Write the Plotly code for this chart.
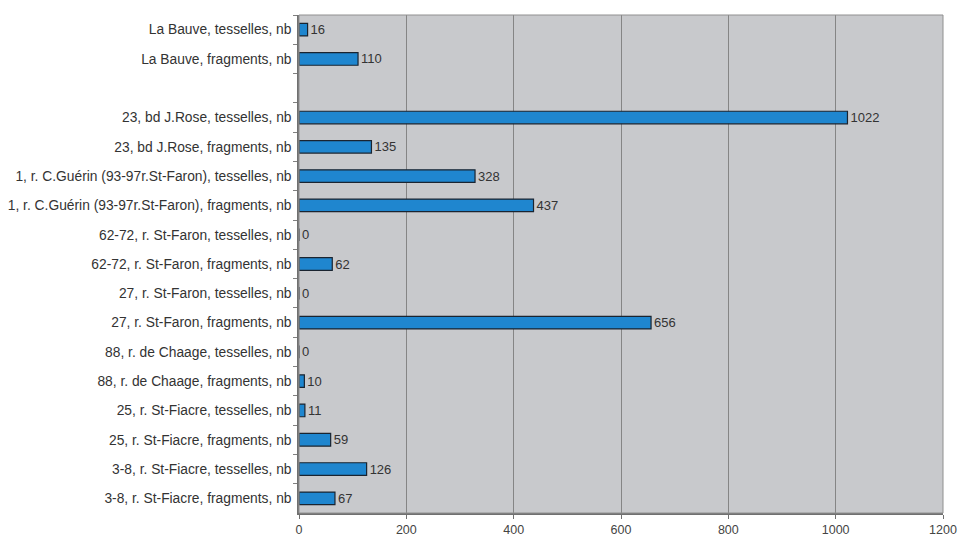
import plotly.graph_objects as go

categories = [
    "La Bauve, tesselles, nb",
    "La Bauve, fragments, nb",
    " ",
    "23, bd J.Rose, tesselles, nb",
    "23, bd J.Rose, fragments, nb",
    "1, r. C.Guérin (93-97r.St-Faron), tesselles, nb",
    "1, r. C.Guérin (93-97r.St-Faron), fragments, nb",
    "62-72, r. St-Faron, tesselles, nb",
    "62-72, r. St-Faron, fragments, nb",
    "27, r. St-Faron, tesselles, nb",
    "27, r. St-Faron, fragments, nb",
    "88, r. de Chaage, tesselles, nb",
    "88, r. de Chaage, fragments, nb",
    "25, r. St-Fiacre, tesselles, nb",
    "25, r. St-Fiacre, fragments, nb",
    "3-8, r. St-Fiacre, tesselles, nb",
    "3-8, r. St-Fiacre, fragments, nb",
]
values = [16, 110, None, 1022, 135, 328, 437, 0, 62, 0, 656, 0, 10, 11, 59, 126, 67]
x_ticks = [0, 200, 400, 600, 800, 1000, 1200]

labels = ["" if v is None else str(v) for v in values]

fig = go.Figure(go.Bar(
    y=categories,
    x=values,
    orientation="h",
    width=0.43,
    marker=dict(color="#1f86cf", line=dict(color="#1a2430", width=1.2)),
    text=labels,
    textposition="outside",
    constraintext="none",
    textfont=dict(family="Liberation Sans, Arial, sans-serif", size=13, color="#333333"),
    cliponaxis=False,
))

fig.update_layout(
    width=958, height=537,
    margin=dict(l=299, r=15, t=15, b=24),
    paper_bgcolor="white",
    plot_bgcolor="#c8c9cc",
    showlegend=False,
    font=dict(family="Liberation Sans, Arial, sans-serif", color="#333333"),
)
fig.update_xaxes(
    range=[0, 1200],
    tickvals=x_ticks,
    ticktext=[str(t) for t in x_ticks],
    showgrid=True, gridcolor="#858585", gridwidth=1,
    zeroline=False,
    showline=True, linecolor="#707070", linewidth=1.5,
    ticks="outside", ticklen=4, tickcolor="#707070",
    tickfont=dict(size=12.5, color="#444444"),
    automargin=False,
)
fig.update_yaxes(
    type="category",
    autorange="reversed",
    showgrid=False,
    showline=True, linecolor="#707070", linewidth=1.5,
    ticks="outside", ticklen=4, tickcolor="#808080",
    tickson="boundaries",
    ticklabelstandoff=3,
    tickfont=dict(size=13.8, color="#333333"),
    automargin=False,
)
fig.add_shape(type="rect", xref="paper", yref="paper", x0=0, x1=1, y0=0, y1=1,
              line=dict(color="#909090", width=1), fillcolor="rgba(0,0,0,0)", layer="above")

fig.write_html("out.html")
